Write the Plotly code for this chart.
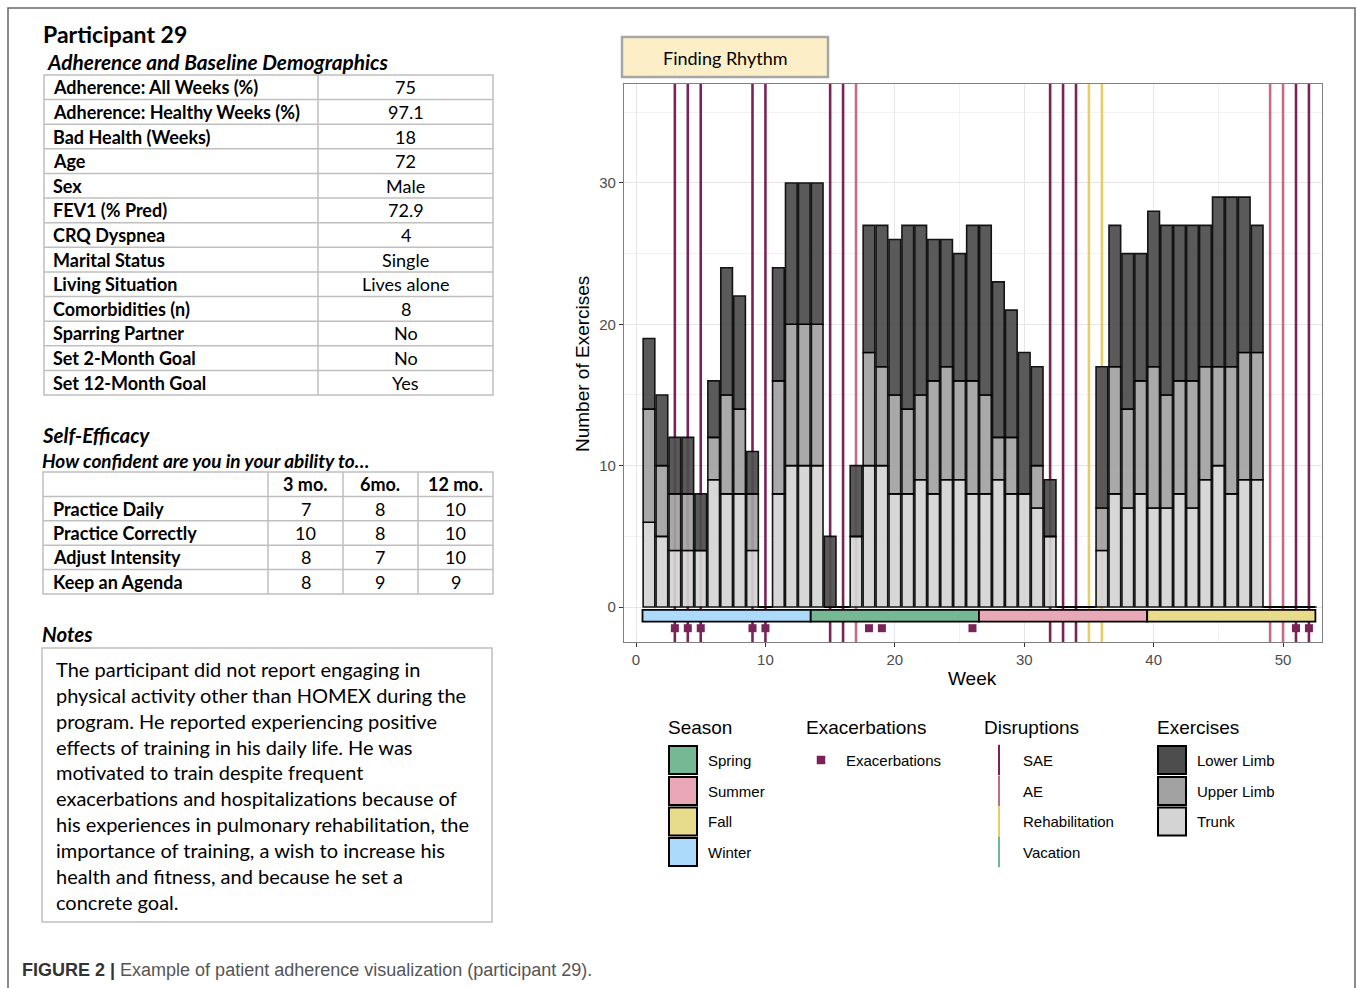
import plotly.graph_objects as go

W, H = 1357, 988

# ---------------- data ----------------
weeks = list(range(1, 53))
trunk = [6, 5, 4, 4, 4, 9, 8, 8, 4, 0,
         8, 10, 10, 10, 0, 0, 5, 10, 10, 8,
         8, 9, 8, 9, 9, 8, 8, 9, 8, 8,
         7, 5, 0, 0, 0, 4, 8, 7, 8, 7,
         7, 8, 7, 9, 10, 8, 9, 9, 0, 0,
         0, 0]
upper = [8, 5, 4, 4, 0, 3, 7, 6, 4, 0,
         8, 10, 10, 10, 0, 0, 0, 8, 7, 7,
         6, 6, 8, 8, 7, 8, 7, 3, 4, 0,
         3, 0, 0, 0, 0, 3, 9, 7, 8, 10,
         8, 8, 9, 8, 7, 9, 9, 9, 0, 0,
         0, 0]
lower = [5, 5, 4, 4, 4, 4, 9, 8, 3, 0,
         8, 10, 10, 10, 5, 0, 5, 9, 10, 11,
         13, 12, 10, 9, 9, 11, 12, 11, 9, 10,
         7, 4, 0, 0, 0, 10, 10, 11, 9, 11,
         12, 11, 11, 10, 12, 12, 11, 9, 0, 0,
         0, 0]

season_names = ["Winter", "Spring", "Summer", "Fall"]
season_start = [0.5, 13.5, 26.5, 39.5]
season_end = [13.5, 26.5, 39.5, 52.5]
season_colors = {"Spring": "#74b894", "Summer": "#e9a8b8", "Fall": "#e9db8c", "Winter": "#acdafa"}

exacerbation_weeks = [3, 4, 5, 9, 10, 18, 19, 26, 51, 52]

disruption_types = ["SAE", "AE", "Rehabilitation", "Vacation"]
disruption_weeks = {
    "SAE": [3, 4, 5, 9, 10, 15, 16, 32, 33, 34, 51, 52],
    "AE": [17, 49, 50],
    "Rehabilitation": [35, 36],
    "Vacation": [],
}
disruption_colors = {"SAE": "#7a2358", "AE": "#c76a82", "Rehabilitation": "#e6cd6a", "Vacation": "#6cb898"}

exercise_names = ["Lower Limb", "Upper Limb", "Trunk"]
exercise_colors = {"Lower Limb": "#4d4d4d", "Upper Limb": "#a2a2a2", "Trunk": "#d4d4d4"}

demo_labels = ["Adherence: All Weeks (%)", "Adherence: Healthy Weeks (%)", "Bad Health (Weeks)",
               "Age", "Sex", "FEV1 (% Pred)", "CRQ Dyspnea", "Marital Status", "Living Situation",
               "Comorbidities (n)", "Sparring Partner", "Set 2-Month Goal", "Set 12-Month Goal"]
demo_values = ["75", "97.1", "18", "72", "Male", "72.9", "4", "Single", "Lives alone",
               "8", "No", "No", "Yes"]

se_items = ["Practice Daily", "Practice Correctly", "Adjust Intensity", "Keep an Agenda"]
se_cols = ["3 mo.", "6mo.", "12 mo."]
se_3mo = [7, 10, 8, 8]
se_6mo = [8, 8, 7, 9]
se_12mo = [10, 10, 10, 9]

notes_lines = [
    "The participant did not report engaging in",
    "physical activity other than HOMEX during the",
    "program. He reported experiencing positive",
    "effects of training in his daily life. He was",
    "motivated to train despite frequent",
    "exacerbations and hospitalizations because of",
    "his experiences in pulmonary rehabilitation, the",
    "importance of training, a wish to increase his",
    "health and fitness, and because he set a",
    "concrete goal.",
]

# ---------------- helpers ----------------
def X(px):
    return px / W


def Y(py):
    return 1 - py / H


TFONT = "Lato, Carlito, Calibri, sans-serif"
AFONT = "Liberation Sans, Arial, sans-serif"

Y_RANGE = [-2.476, 37.0]

fig = go.Figure()

shapes = []
ann = []

# disruption lines: thin full-height bars (drawn first so exercise bars cover them)
for d in disruption_types:
    wks = disruption_weeks[d]
    if not wks:
        continue
    fig.add_trace(go.Bar(x=wks, y=[Y_RANGE[1] - Y_RANGE[0] + 2] * len(wks),
                         base=[Y_RANGE[0] - 1] * len(wks), width=0.2, name=d,
                         marker=dict(color=disruption_colors[d], line=dict(width=0)),
                         showlegend=False, hoverinfo="skip"))

# stacked exercise bars
upper_base = [t for t in trunk]
lower_base = [t + u for t, u in zip(trunk, upper)]
for name, vals, base in [("Trunk", trunk, [0] * len(weeks)),
                         ("Upper Limb", upper, upper_base),
                         ("Lower Limb", lower, lower_base)]:
    fig.add_trace(go.Bar(x=weeks, y=vals, base=base, width=0.9, name=name, opacity=0.92,
                         marker=dict(color=exercise_colors[name], line=dict(color="black", width=1.6)),
                         showlegend=False))

# season strip
fig.add_trace(go.Bar(
    x=[(s + e) / 2 for s, e in zip(season_start, season_end)],
    y=[0.83] * len(season_names),
    base=[-1.04] * len(season_names),
    width=[e - s for s, e in zip(season_start, season_end)],
    marker=dict(color=[season_colors[s] for s in season_names], line=dict(color="black", width=1.8)),
    showlegend=False, hoverinfo="skip"))

# zero-height bar outlines for empty weeks
empty_weeks = [w for w, t, u, l in zip(weeks, trunk, upper, lower) if t + u + l == 0]
fig.add_trace(go.Scatter(x=empty_weeks, y=[0] * len(empty_weeks), mode="markers",
                         marker=dict(symbol="line-ew", size=11, line=dict(color="black", width=1.5)),
                         showlegend=False, hoverinfo="skip"))

# exacerbations
fig.add_trace(go.Scatter(x=exacerbation_weeks, y=[-1.5] * len(exacerbation_weeks), mode="markers",
                         marker=dict(symbol="square", size=8, color="#7a2358"),
                         showlegend=False))

fig.update_layout(
    width=W, height=H, margin=dict(l=0, r=0, t=0, b=0),
    paper_bgcolor="white", plot_bgcolor="white", barmode="overlay",
    font=dict(family=AFONT, color="black"),
    xaxis=dict(domain=[X(624), X(1322)], range=[-0.93, 53.01],
               tickvals=[0, 10, 20, 30, 40, 50], ticks="outside", ticklen=4, tickcolor="#333333",
               tickfont=dict(size=15, color="#4d4d4d", family=AFONT),
               showgrid=True, gridcolor="#e6e6e6", gridwidth=1,
               minor=dict(showgrid=True, gridcolor="#f2f2f2", tick0=5, dtick=10),
               showline=True, mirror=True, linecolor="#7f7f7f", linewidth=1.2, zeroline=False),
    yaxis=dict(domain=[Y(642), Y(84)], range=Y_RANGE,
               tickvals=[0, 10, 20, 30], ticks="outside", ticklen=4, tickcolor="#333333",
               tickfont=dict(size=15, color="#4d4d4d", family=AFONT),
               showgrid=True, gridcolor="#e6e6e6", gridwidth=1,
               minor=dict(showgrid=True, gridcolor="#f2f2f2", tick0=5, dtick=10),
               showline=True, mirror=True, linecolor="#7f7f7f", linewidth=1.2, zeroline=False),
)


def text(px, py, s, size, family=TFONT, xanchor="left", color="black", textangle=0):
    if xanchor == "left":
        px -= 2
    ann.append(dict(x=X(px), y=Y(py), xref="paper", yref="paper", text=s, showarrow=False,
                    xanchor=xanchor, yanchor="middle", textangle=textangle,
                    font=dict(size=size, family=family, color=color)))


def rect(x0, y0, x1, y1, fill=None, line="#bfbfbf", lw=1.5, layer="above"):
    shapes.append(dict(type="rect", xref="paper", yref="paper", x0=X(x0), x1=X(x1), y0=Y(y1), y1=Y(y0),
                       fillcolor=fill if fill else "rgba(0,0,0,0)",
                       line=dict(color=line, width=lw), layer=layer))


def hline(x0, x1, y, color="#bfbfbf", lw=1.5):
    shapes.append(dict(type="line", xref="paper", yref="paper", x0=X(x0), x1=X(x1), y0=Y(y), y1=Y(y),
                       line=dict(color=color, width=lw)))


def vline(x, y0, y1, color="#bfbfbf", lw=1.5):
    shapes.append(dict(type="line", xref="paper", yref="paper", x0=X(x), x1=X(x), y0=Y(y0), y1=Y(y1),
                       line=dict(color=color, width=lw)))


# outer frame
rect(8, 8, 1355, 1005, line="#666666", lw=1.5)

# ---- left panel ----
text(43, 34, "<b>Participant 29</b>", 23)
text(47, 62, "<b><i>Adherence and Baseline Demographics</i></b>", 20.8)

t1_top, t1_bot, t1_l, t1_r, t1_mid = 75, 395, 44, 493, 318
rh = (t1_bot - t1_top) / len(demo_labels)
rect(t1_l, t1_top, t1_r, t1_bot)
vline(t1_mid, t1_top, t1_bot)
for i, (lab, val) in enumerate(zip(demo_labels, demo_values)):
    if i > 0:
        hline(t1_l, t1_r, t1_top + i * rh)
    cy = t1_top + (i + 0.5) * rh
    text(53, cy, "<b>" + lab + "</b>", 18)
    text((t1_mid + t1_r) / 2, cy, val, 18, xanchor="center")

text(42, 435, "<b><i>Self-Efficacy</i></b>", 20.5)
text(42, 460, "<b><i>How confident are you in your ability to…</i></b>", 19)

t2_top, t2_bot, t2_l, t2_r = 472, 594, 43, 493
col_x = [43, 268, 343, 418, 493]
rh2 = (t2_bot - t2_top) / (len(se_items) + 1)
rect(t2_l, t2_top, t2_r, t2_bot)
for cx in col_x[1:-1]:
    vline(cx, t2_top, t2_bot)
for i in range(1, len(se_items) + 1):
    hline(t2_l, t2_r, t2_top + i * rh2)
for j, c in enumerate(se_cols):
    text((col_x[j + 1] + col_x[j + 2]) / 2, t2_top + 0.5 * rh2, "<b>" + c + "</b>", 18, xanchor="center")
for i, item in enumerate(se_items):
    cy = t2_top + (i + 1.5) * rh2
    text(53, cy, "<b>" + item + "</b>", 18)
    for j, v in enumerate([se_3mo[i], se_6mo[i], se_12mo[i]]):
        text((col_x[j + 1] + col_x[j + 2]) / 2, cy, str(v), 18, xanchor="center")

text(42, 634, "<b><i>Notes</i></b>", 20.5)
rect(42, 648, 492, 922)
for k, line in enumerate(notes_lines):
    text(56, 669 + k * 25.85, line, 20)

# caption
text(22, 970, "<b>FIGURE 2 |</b> <span style='color:#555555'>Example of patient adherence visualization (participant 29).</span>",
     18, family=AFONT, color="#333333")

# ---- chart extras ----
rect(622, 37, 828, 77, fill="#fcefc7", line="#a6a6a6", lw=2.5)
text(725, 58, "Finding Rhythm", 18, xanchor="center")

text(582, 364, "Number of Exercises", 19, family=AFONT, xanchor="center", textangle=-90)
text(972, 678, "Week", 19, family=AFONT, xanchor="center")

# ---- legend ----
row_y = [760, 791, 821.5, 852]
kh = 28
text(668, 727, "Season", 19, family=AFONT)
for i, s in enumerate(["Spring", "Summer", "Fall", "Winter"]):
    rect(669, row_y[i] - kh / 2, 697, row_y[i] + kh / 2, fill=season_colors[s], line="black", lw=2)
    text(708, row_y[i], s, 15, family=AFONT)

text(806, 727, "Exacerbations", 19, family=AFONT)
rect(817, row_y[0] - 4, 825, row_y[0] + 4, fill="#7a2358", line="#7a2358", lw=0.5)
text(846, row_y[0], "Exacerbations", 15, family=AFONT)

text(984, 727, "Disruptions", 19, family=AFONT)
for i, d in enumerate(disruption_types):
    vline(999, row_y[i] - 15.3, row_y[i] + 15.3, color=disruption_colors[d], lw=2)
    text(1023, row_y[i], d, 15, family=AFONT)

text(1157, 727, "Exercises", 19, family=AFONT)
for i, e in enumerate(exercise_names):
    rect(1158, row_y[i] - kh / 2, 1186, row_y[i] + kh / 2, fill=exercise_colors[e], line="black", lw=2)
    text(1197, row_y[i], e, 15, family=AFONT)

fig.update_layout(shapes=shapes, annotations=ann)

fig.write_html("out.html", config={"displayModeBar": False},
               post_script="document.body.style.margin='0';document.body.style.overflow='hidden';")
